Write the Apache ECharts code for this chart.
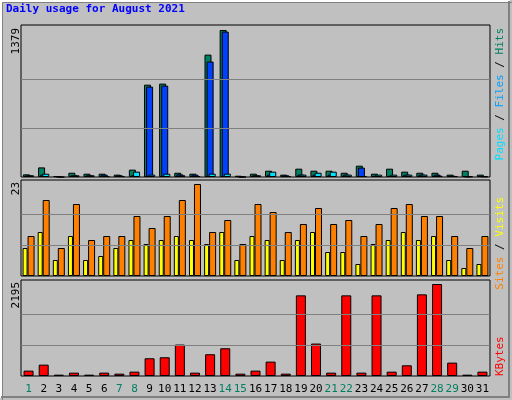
<!DOCTYPE html>
<html><head><meta charset="utf-8">
<script src="https://cdn.jsdelivr.net/npm/echarts@6/dist/echarts.min.js"></script>
<style>html,body{margin:0;padding:0;background:#c0c0c0}#c{width:512px;height:400px}</style>
</head><body><div id="c"></div>
<script>
const days = ['1','2','3','4','5','6','7','8','9','10','11','12','13','14','15','16','17','18','19','20','21','22','23','24','25','26','27','28','29','30','31'];
const weekendDays = ['1','7','8','14','15','21','22','28','29'];
const hits  = [25,90,9,40,31,31,22,69,866,876,40,31,1148,1379,12,31,59,22,78,59,59,40,106,31,78,50,40,40,22,59,22];
const files = [16,22,6,16,16,22,16,16,848,857,25,22,1083,1364,6,16,22,16,22,22,22,22,88,12,12,22,22,22,12,6,9];
const pages = [16,31,0,16,16,9,9,50,22,31,16,9,31,31,0,16,50,9,22,40,50,22,9,22,22,22,22,12,9,6,6];
const sites  = [7,11,4,10,4,5,7,9,8,9,10,9,8,11,4,10,9,4,9,11,6,6,3,8,9,11,9,10,4,2,3];
const visits = [10,19,7,18,9,10,10,15,12,15,19,23,11,14,8,18,16,11,13,17,13,14,10,13,17,18,15,15,10,7,10];
const kbytes = [128,271,32,80,32,80,56,104,423,447,750,80,519,662,56,128,343,56,1924,774,80,1924,80,1924,104,255,1948,2195,319,32,104];
const maxHits = 1379, maxVisits = 23, maxKB = 2195;

const chart = echarts.init(document.getElementById('c'));
const mono = 'DejaVu Sans Mono';
const grids = [
  {left:21,right:22,top:25,height:152},
  {left:21,right:22,top:180,height:96},
  {left:21,right:22,top:280,height:96}
].map(g=>Object.assign(g,{show:true,backgroundColor:'#c0c0c0',borderColor:'#000',borderWidth:1}));
function xa(i,show){return {type:'category',data:days,gridIndex:i,axisLine:{show:false},axisTick:{show:false},
  axisLabel:{show:show,interval:0,margin:8,fontFamily:mono,fontSize:11,
    color:(v)=>weekendDays.includes(v)?'#008060':'#000'}};}
function ya(i,max){return {type:'value',gridIndex:i,min:0,max:max,splitLine:{show:false},axisLabel:{show:false},axisLine:{show:false},axisTick:{show:false}};}
function ml(m){return {silent:true,symbol:'none',label:{show:false},lineStyle:{color:'#808080',type:'solid',width:1},
  data:[{yAxis:m/3},{yAxis:2*m/3}]};}
const bs={borderColor:'#000',borderWidth:1};
chart.setOption({
  animation:false,
  backgroundColor:'#c0c0c0',
  grid:grids,
  xAxis:[xa(0,false),xa(1,false),xa(2,true)],
  yAxis:[ya(0,maxHits*152/147),ya(1,maxVisits*96/92),ya(2,maxKB*96/92)],
  series:[
    {type:'bar',xAxisIndex:0,yAxisIndex:0,data:hits,barWidth:7,barGap:'-70%',itemStyle:Object.assign({color:'#008060'},bs),markLine:ml(maxHits),z:1},
    {type:'bar',xAxisIndex:0,yAxisIndex:0,data:files,barWidth:7,barGap:'-70%',itemStyle:Object.assign({color:'#0040ff'},bs),z:2},
    {type:'bar',xAxisIndex:0,yAxisIndex:0,data:pages,barWidth:7,barGap:'-70%',itemStyle:Object.assign({color:'#00e0ff'},bs),z:3},
    {type:'bar',xAxisIndex:1,yAxisIndex:1,data:sites,barWidth:5,barGap:'0%',itemStyle:Object.assign({color:'#ffff00'},bs),markLine:ml(maxVisits)},
    {type:'bar',xAxisIndex:1,yAxisIndex:1,data:visits,barWidth:7,barGap:'0%',itemStyle:Object.assign({color:'#ff8000'},bs)},
    {type:'bar',xAxisIndex:2,yAxisIndex:2,data:kbytes,barWidth:10,itemStyle:Object.assign({color:'#ff0000'},bs),markLine:ml(maxKB)}
  ],
  graphic:[
    {type:'rect',left:0,top:0,shape:{width:511,height:399},style:{fill:'none',stroke:'#808080',lineWidth:1},silent:true},
    {type:'polyline',shape:{points:[[1,398],[1,1],[510,1]]},style:{stroke:'#fff',lineWidth:2,fill:'none'},silent:true},
    {type:'polyline',shape:{points:[[1,397],[509,397],[509,1]]},style:{stroke:'#808080',lineWidth:2,fill:'none'},silent:true},
    {type:'text',x:6,y:4,style:{text:'Daily usage for August 2021',fill:'#0000ff',font:'bold 11px "DejaVu Sans Mono"'}},
    {type:'text',x:16,y:28,rotation:Math.PI/2,style:{text:String(maxHits),fill:'#000',font:'11px "DejaVu Sans Mono"',textAlign:'right',textVerticalAlign:'middle'}},
    {type:'text',x:16,y:182,rotation:Math.PI/2,style:{text:String(maxVisits),fill:'#000',font:'11px "DejaVu Sans Mono"',textAlign:'right',textVerticalAlign:'middle'}},
    {type:'text',x:16,y:282,rotation:Math.PI/2,style:{text:String(maxKB),fill:'#000',font:'11px "DejaVu Sans Mono"',textAlign:'right',textVerticalAlign:'middle'}},
    {type:'text',x:500,y:28,rotation:Math.PI/2,style:{text:'{p|Pages}{s| / }{f|Files}{s| / }{h|Hits}',font:'11px "DejaVu Sans Mono"',textAlign:'right',textVerticalAlign:'middle',
      rich:{p:{fill:'#00e0ff',font:'11px "DejaVu Sans Mono"'},s:{fill:'#000',font:'11px "DejaVu Sans Mono"'},f:{fill:'#00a0ff',font:'11px "DejaVu Sans Mono"'},h:{fill:'#008060',font:'11px "DejaVu Sans Mono"'}}}},
    {type:'text',x:500,y:197,rotation:Math.PI/2,style:{text:'{a|Sites}{s| / }{b|Visits}',font:'11px "DejaVu Sans Mono"',textAlign:'right',textVerticalAlign:'middle',
      rich:{a:{fill:'#ff8000',font:'11px "DejaVu Sans Mono"'},s:{fill:'#000',font:'11px "DejaVu Sans Mono"'},b:{fill:'#ffff00',font:'11px "DejaVu Sans Mono"'}}}},
    {type:'text',x:500,y:376,rotation:Math.PI/2,style:{text:'KBytes',fill:'#ff0000',font:'11px "DejaVu Sans Mono"',textAlign:'left',textVerticalAlign:'middle'}}
  ]
});
</script></body></html>
